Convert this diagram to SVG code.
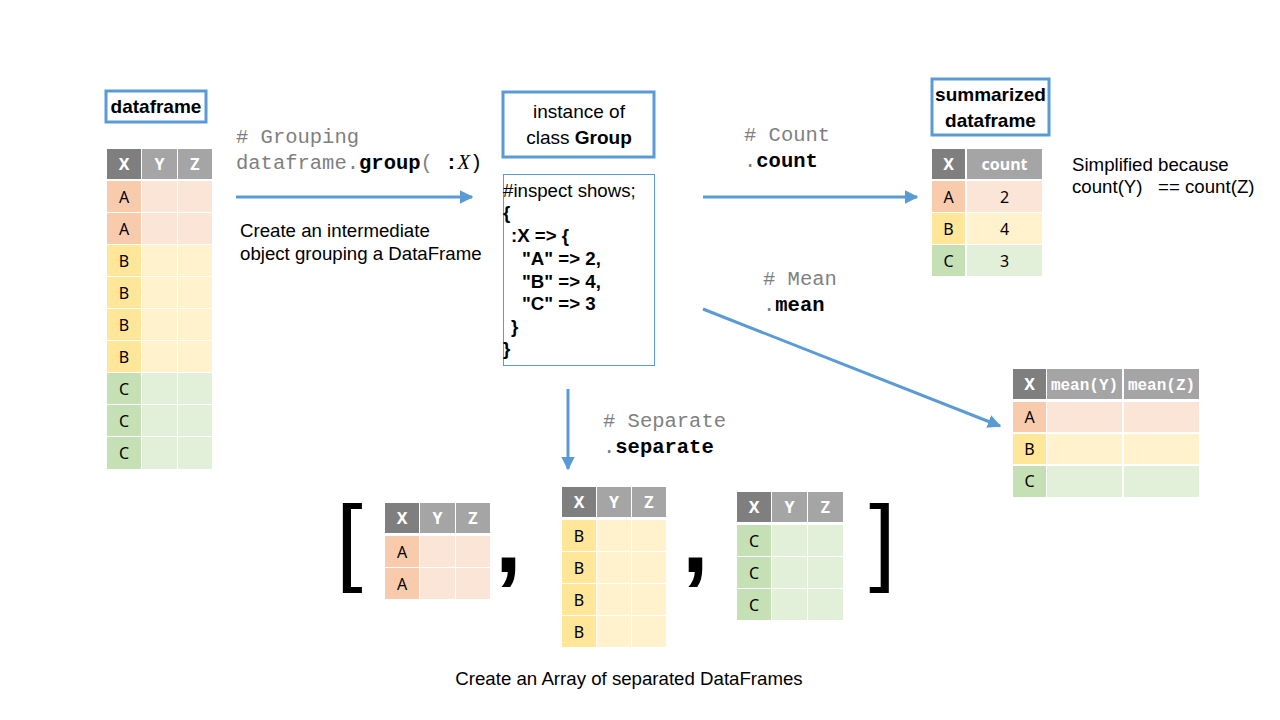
<svg xmlns="http://www.w3.org/2000/svg" width="1280" height="720" viewBox="0 0 1280 720">
<style>
.hx{fill:#7f7f7f}.hy{fill:#a5a5a5}
.ax{fill:#f8cbad}.ay{fill:#fbe5d6}
.bx{fill:#ffe699}.by{fill:#fff2cc}
.cx{fill:#c5e0b4}.cy{fill:#e2f0d9}
.ht{font-family:"Noto Sans","DejaVu Sans",sans-serif;font-size:16px;font-weight:bold;fill:#fff;text-anchor:middle}
.hm{font-family:"Liberation Mono","DejaVu Sans Mono",monospace;font-size:16px;font-weight:bold;fill:#fff;text-anchor:middle}
.ct{font-family:"Noto Sans","DejaVu Sans",sans-serif;font-size:16px;fill:#000;text-anchor:middle}
.lbl{fill:#fff;stroke:#5b9bd5;stroke-width:3}
.lt{font-family:"Liberation Sans",Arial,sans-serif;font-size:19px;fill:#000;text-anchor:middle}
.code{font-family:"Liberation Mono","DejaVu Sans Mono",monospace;font-size:20.5px;fill:#7f7f7f}
.b{font-weight:bold;fill:#000}
.txt{font-family:"Liberation Sans",Arial,sans-serif;font-size:18.67px;fill:#000}
.insp{font-family:"Liberation Sans",Arial,sans-serif;font-size:18.67px;font-weight:bold;fill:#000}
.big{font-family:"Liberation Sans",Arial,sans-serif;font-size:96px;fill:#000}
.arr{stroke:#5b9bd5;stroke-width:3;fill:none;marker-end:url(#ah)}
</style>
<defs>
<marker id="ah" viewBox="0 0 10 10" refX="9" refY="5" markerWidth="4.5" markerHeight="4.5" markerUnits="strokeWidth" orient="auto">
<path d="M0,0 L10,5 L0,10 z" fill="#5b9bd5"/>
</marker>
</defs>
<rect width="1280" height="720" fill="#fff"/>

<g id="connectors">
<line class="arr" x1="236" y1="197" x2="472" y2="197"/>
<line class="arr" x1="703" y1="197" x2="917" y2="197"/>
<line class="arr" x1="703" y1="309" x2="1000" y2="426"/>
<line class="arr" x1="568" y1="389" x2="568" y2="469"/>
</g>

<g id="label-grouping">
<text class="code" x="236" y="143"># Grouping</text>
<text class="code" x="236" y="169">dataframe.<tspan class="b">group</tspan>( <tspan class="b">:</tspan><tspan fill="#000" font-style="italic" font-family="Liberation Serif,serif">X</tspan><tspan fill="#000">)</tspan></text>
<text class="txt" x="240" y="237">Create an intermediate</text>
<text class="txt" x="240" y="260">object grouping a DataFrame</text>
</g>

<g id="label-count">
<text class="code" x="744" y="141"># Count</text>
<text class="code" x="744" y="167">.<tspan class="b">count</tspan></text>
</g>
<g id="label-mean">
<text class="code" x="763" y="285"># Mean</text>
<text class="code" x="763" y="311">.<tspan class="b">mean</tspan></text>
</g>
<g id="label-separate">
<text class="code" x="603" y="427"># Separate</text>
<text class="code" x="603" y="453">.<tspan class="b">separate</tspan></text>
</g>

<g id="dataframe-title">
<rect class="lbl" x="106" y="91" width="100" height="31"/>
<text class="lt" x="156" y="113" font-weight="bold">dataframe</text>
</g>

<g id="dataframe">
<rect class="hx" x="107" y="149" width="34" height="30"/><rect class="hy" x="142" y="149" width="35" height="30"/><rect class="hy" x="178" y="149" width="34" height="30"/>
<text class="ht" x="124" y="170">X</text><text class="ht" x="159.5" y="170">Y</text><text class="ht" x="195" y="170">Z</text>
<rect class="ax" x="107" y="181" width="34" height="31"/><rect class="ay" x="142" y="181" width="35" height="31"/><rect class="ay" x="178" y="181" width="34" height="31"/>
<rect class="ax" x="107" y="213" width="34" height="31"/><rect class="ay" x="142" y="213" width="35" height="31"/><rect class="ay" x="178" y="213" width="34" height="31"/>
<rect class="bx" x="107" y="245" width="34" height="31"/><rect class="by" x="142" y="245" width="35" height="31"/><rect class="by" x="178" y="245" width="34" height="31"/>
<rect class="bx" x="107" y="277" width="34" height="31"/><rect class="by" x="142" y="277" width="35" height="31"/><rect class="by" x="178" y="277" width="34" height="31"/>
<rect class="bx" x="107" y="309" width="34" height="31"/><rect class="by" x="142" y="309" width="35" height="31"/><rect class="by" x="178" y="309" width="34" height="31"/>
<rect class="bx" x="107" y="341" width="34" height="31"/><rect class="by" x="142" y="341" width="35" height="31"/><rect class="by" x="178" y="341" width="34" height="31"/>
<rect class="cx" x="107" y="373" width="34" height="31"/><rect class="cy" x="142" y="373" width="35" height="31"/><rect class="cy" x="178" y="373" width="34" height="31"/>
<rect class="cx" x="107" y="405" width="34" height="31"/><rect class="cy" x="142" y="405" width="35" height="31"/><rect class="cy" x="178" y="405" width="34" height="31"/>
<rect class="cx" x="107" y="437" width="34" height="32"/><rect class="cy" x="142" y="437" width="35" height="32"/><rect class="cy" x="178" y="437" width="34" height="32"/>
<text class="ct" x="124" y="203">A</text><text class="ct" x="124" y="235">A</text>
<text class="ct" x="124" y="267">B</text><text class="ct" x="124" y="299">B</text><text class="ct" x="124" y="331">B</text><text class="ct" x="124" y="363">B</text>
<text class="ct" x="124" y="395">C</text><text class="ct" x="124" y="427">C</text><text class="ct" x="124" y="459">C</text>
</g>

<g id="group-title">
<rect class="lbl" x="503" y="92" width="151" height="65"/>
<text class="lt" x="579" y="118">instance of</text>
<text class="lt" x="579" y="144">class <tspan font-weight="bold">Group</tspan></text>
</g>

<g id="group-inspect">
<rect x="503.5" y="174.5" width="151" height="191" fill="#fff" stroke="#5b9bd5" stroke-width="1"/>
<text class="txt" x="503" y="197">#inspect shows;</text>
<text class="insp" x="503" y="219">{</text>
<text class="insp" x="511" y="242">:X =&gt; {</text>
<text class="insp" x="522" y="265">"A" =&gt; 2,</text>
<text class="insp" x="522" y="288">"B" =&gt; 4,</text>
<text class="insp" x="522" y="310">"C" =&gt; 3</text>
<text class="insp" x="511" y="333">}</text>
<text class="insp" x="503" y="355">}</text>
</g>

<g id="summary-title">
<rect class="lbl" x="932" y="79" width="117" height="56"/>
<text class="lt" x="990.5" y="101" font-weight="bold" font-size="18px">summarized</text>
<text class="lt" x="990.5" y="127" font-weight="bold" font-size="18px">dataframe</text>
</g>

<g id="count-table">
<rect class="hx" x="932" y="149" width="33" height="30"/><rect class="hy" x="967" y="149" width="75" height="30"/>
<text class="ht" x="948.5" y="170">X</text><text class="ht" x="1004.5" y="170">count</text>
<rect class="ax" x="932" y="181" width="33" height="31"/><rect class="ay" x="967" y="181" width="75" height="31"/>
<rect class="bx" x="932" y="213" width="33" height="31"/><rect class="by" x="967" y="213" width="75" height="31"/>
<rect class="cx" x="932" y="245" width="33" height="31"/><rect class="cy" x="967" y="245" width="75" height="31"/>
<text class="ct" x="948.5" y="203">A</text><text class="ct" x="1004.5" y="203">2</text>
<text class="ct" x="948.5" y="235">B</text><text class="ct" x="1004.5" y="235">4</text>
<text class="ct" x="948.5" y="267">C</text><text class="ct" x="1004.5" y="267">3</text>
</g>

<g id="count-note">
<text class="txt" x="1072" y="171" font-size="19px">Simplified because</text>
<text class="txt" x="1072" y="193" font-size="19px" xml:space="preserve">count(Y)   == count(Z)</text>
</g>

<g id="mean-table">
<rect class="hx" x="1013" y="369" width="33" height="30"/><rect class="hy" x="1047" y="369" width="75" height="30"/><rect class="hy" x="1124" y="369" width="75" height="30"/>
<text class="ht" x="1029.5" y="390">X</text><text class="hm" x="1084.5" y="390">mean(Y)</text><text class="hm" x="1161.5" y="390">mean(Z)</text>
<rect class="ax" x="1013" y="402" width="33" height="30"/><rect class="ay" x="1047" y="402" width="75" height="30"/><rect class="ay" x="1124" y="402" width="75" height="30"/>
<rect class="bx" x="1013" y="434" width="33" height="30"/><rect class="by" x="1047" y="434" width="75" height="30"/><rect class="by" x="1124" y="434" width="75" height="30"/>
<rect class="cx" x="1013" y="466" width="33" height="31"/><rect class="cy" x="1047" y="466" width="75" height="31"/><rect class="cy" x="1124" y="466" width="75" height="31"/>
<text class="ct" x="1029.5" y="423">A</text><text class="ct" x="1029.5" y="455">B</text><text class="ct" x="1029.5" y="487">C</text>
</g>

<g id="array-brackets">
<text class="big" x="336" y="573">[</text>
<text class="big" x="495" y="572" font-weight="bold">,</text>
<text class="big" x="682" y="572" font-weight="bold">,</text>
<text class="big" x="869" y="573">]</text>
</g>

<g id="sep-a">
<rect class="hx" x="385" y="503" width="34" height="30"/><rect class="hy" x="420" y="503" width="35" height="30"/><rect class="hy" x="456" y="503" width="34" height="30"/>
<text class="ht" x="402" y="524">X</text><text class="ht" x="437.5" y="524">Y</text><text class="ht" x="473" y="524">Z</text>
<rect class="ax" x="385" y="536" width="34" height="31"/><rect class="ay" x="420" y="536" width="35" height="31"/><rect class="ay" x="456" y="536" width="34" height="31"/>
<rect class="ax" x="385" y="568" width="34" height="31"/><rect class="ay" x="420" y="568" width="35" height="31"/><rect class="ay" x="456" y="568" width="34" height="31"/>
<text class="ct" x="402" y="558">A</text><text class="ct" x="402" y="590">A</text>
</g>

<g id="sep-b">
<rect class="hx" x="562" y="487" width="34" height="30"/><rect class="hy" x="597" y="487" width="34" height="30"/><rect class="hy" x="632" y="487" width="34" height="30"/>
<text class="ht" x="579" y="508">X</text><text class="ht" x="614" y="508">Y</text><text class="ht" x="649" y="508">Z</text>
<rect class="bx" x="562" y="520" width="34" height="31"/><rect class="by" x="597" y="520" width="34" height="31"/><rect class="by" x="632" y="520" width="34" height="31"/>
<rect class="bx" x="562" y="552" width="34" height="31"/><rect class="by" x="597" y="552" width="34" height="31"/><rect class="by" x="632" y="552" width="34" height="31"/>
<rect class="bx" x="562" y="584" width="34" height="31"/><rect class="by" x="597" y="584" width="34" height="31"/><rect class="by" x="632" y="584" width="34" height="31"/>
<rect class="bx" x="562" y="616" width="34" height="31"/><rect class="by" x="597" y="616" width="34" height="31"/><rect class="by" x="632" y="616" width="34" height="31"/>
<text class="ct" x="579" y="542">B</text><text class="ct" x="579" y="574">B</text><text class="ct" x="579" y="606">B</text><text class="ct" x="579" y="638">B</text>
</g>

<g id="sep-c">
<rect class="hx" x="737" y="492" width="34" height="30"/><rect class="hy" x="772" y="492" width="35" height="30"/><rect class="hy" x="808" y="492" width="35" height="30"/>
<text class="ht" x="754" y="513">X</text><text class="ht" x="789.5" y="513">Y</text><text class="ht" x="825.5" y="513">Z</text>
<rect class="cx" x="737" y="525" width="34" height="31"/><rect class="cy" x="772" y="525" width="35" height="31"/><rect class="cy" x="808" y="525" width="35" height="31"/>
<rect class="cx" x="737" y="557" width="34" height="31"/><rect class="cy" x="772" y="557" width="35" height="31"/><rect class="cy" x="808" y="557" width="35" height="31"/>
<rect class="cx" x="737" y="589" width="34" height="31"/><rect class="cy" x="772" y="589" width="35" height="31"/><rect class="cy" x="808" y="589" width="35" height="31"/>
<text class="ct" x="754" y="547">C</text><text class="ct" x="754" y="579">C</text><text class="ct" x="754" y="611">C</text>
</g>

<g id="array-caption">
<text class="txt" x="629" y="685" text-anchor="middle">Create an Array of separated DataFrames</text>
</g>
</svg>
